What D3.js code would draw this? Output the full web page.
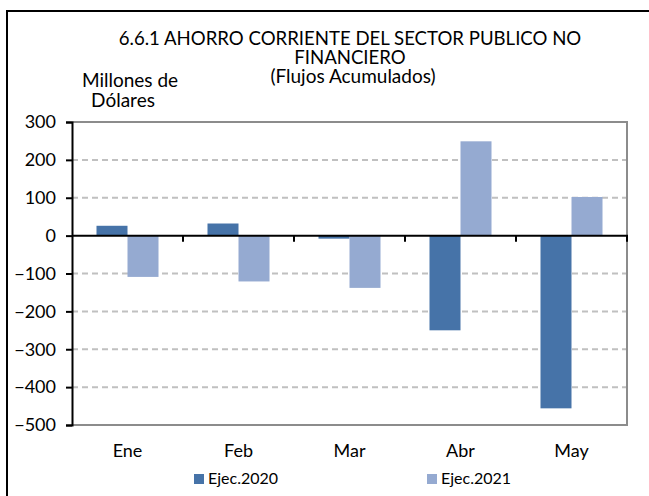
<!DOCTYPE html>
<html>
<head>
<meta charset="utf-8">
<script src="https://cdn.jsdelivr.net/npm/d3@7"></script>
<style>
  html, body { margin: 0; padding: 0; background: #fff; }
  svg text { font-family: Lato, "Open Sans", sans-serif; fill: #000; }
</style>
</head>
<body>
<svg id="chart" width="649" height="496"></svg>
<script>
// Ahorro corriente del SPNF, flujos acumulados (millones de dólares)
const months = ["Ene", "Feb", "Mar", "Abr", "May"];
const seriesNames = ["Ejec.2020", "Ejec.2021"];
const ejec2020 = [26, 32, -8, -250, -456];
const ejec2021 = [-109, -121, -138, 249, 102];
const yTicks = [300, 200, 100, 0, -100, -200, -300, -400, -500];
const colors = ["#4673a8", "#95aad1"];

const svg = d3.select("#chart");
const margin = { left: 72, right: 627, top: 122, bottom: 425 };

// outer frame (top and left edges)
svg.append("path")
  .attr("d", "M7,496 V11 H649")
  .attr("fill", "none").attr("stroke", "#000").attr("stroke-width", 2);

const x = d3.scaleBand().domain(months).range([margin.left, margin.right]).paddingInner(0).paddingOuter(0);
const xs = d3.scaleBand().domain(seriesNames).range([0, x.bandwidth()]).paddingInner(0).paddingOuter(0.79);
const y = d3.scaleLinear().domain([-500, 300]).range([margin.bottom, margin.top]);

// dashed gridlines
svg.append("g").selectAll("line")
  .data(yTicks.filter(t => t !== 0 && t !== 300))
  .join("line")
  .attr("x1", margin.left).attr("x2", margin.right)
  .attr("y1", d => y(d)).attr("y2", d => y(d))
  .attr("stroke", "#c0c0c0").attr("stroke-width", 2).attr("stroke-dasharray", "6,4");

// plot area frame (top, right, bottom)
svg.append("path")
  .attr("d", `M${margin.left},${y(300)} H${margin.right} V${y(-500)} H${margin.left}`)
  .attr("fill", "none").attr("stroke", "#8c8c8c").attr("stroke-width", 2);

// bars
const rows = months.map((m, i) => ({ m, vals: [ejec2020[i], ejec2021[i]] }));
const groups = svg.append("g").selectAll("g").data(rows).join("g")
  .attr("transform", d => `translate(${x(d.m)},0)`);
groups.selectAll("rect")
  .data(d => d.vals.map((v, k) => ({ v, k })))
  .join("rect")
  .attr("x", d => xs(seriesNames[d.k]))
  .attr("width", xs.bandwidth())
  .attr("y", d => y(Math.max(0, d.v)))
  .attr("height", d => Math.abs(y(d.v) - y(0)))
  .attr("fill", d => colors[d.k]);

// zero line with category ticks
svg.append("line")
  .attr("x1", margin.left).attr("x2", margin.right + 1)
  .attr("y1", y(0)).attr("y2", y(0))
  .attr("stroke", "#000").attr("stroke-width", 2);
svg.append("g").selectAll("line")
  .data(months.map(m => x(m) + x.bandwidth()))
  .join("line")
  .attr("x1", d => d).attr("x2", d => d)
  .attr("y1", y(0)).attr("y2", y(0) + 6)
  .attr("stroke", "#000").attr("stroke-width", 2);

// y axis
const yAxis = d3.axisLeft(y).tickValues(yTicks).tickSize(6).tickPadding(10).tickFormat(d3.format("d"));
const ga = svg.append("g").attr("transform", `translate(${margin.left},0)`).call(yAxis);
ga.select(".domain").attr("stroke", "#000").attr("stroke-width", 2);
ga.selectAll(".tick line").attr("stroke", "#000").attr("stroke-width", 2);
ga.selectAll(".tick text").attr("font-size", 18).style("font-family", "Lato, sans-serif").attr("fill", "#000");

// category labels
svg.append("g").selectAll("text").data(months).join("text")
  .attr("x", d => x(d) + x.bandwidth() / 2)
  .attr("y", 457)
  .attr("text-anchor", "middle")
  .attr("font-size", 18)
  .text(d => d);

// titles
const title = [
  { t: "6.6.1 AHORRO CORRIENTE DEL SECTOR PUBLICO NO", x: 350, y: 45, s: 18.6 },
  { t: "FINANCIERO", x: 350, y: 64, s: 18.6 },
  { t: "(Flujos Acumulados)", x: 353, y: 83, s: 19 },
  { t: "Millones de", x: 130, y: 87, s: 19 },
  { t: "Dólares", x: 123, y: 107, s: 19 }
];
svg.append("g").selectAll("text").data(title).join("text")
  .attr("x", d => d.x).attr("y", d => d.y)
  .attr("text-anchor", "middle")
  .attr("font-size", d => d.s)
  .text(d => d.t);

// legend
const legX = [194, 427];
const leg = svg.append("g").selectAll("g").data(seriesNames).join("g")
  .attr("transform", (d, i) => `translate(${legX[i]},474)`);
leg.append("rect").attr("width", 10).attr("height", 10).attr("fill", (d, i) => colors[i]);
leg.append("text").attr("x", 14).attr("y", 10).attr("font-size", 16).text(d => d);
</script>
</body>
</html>
